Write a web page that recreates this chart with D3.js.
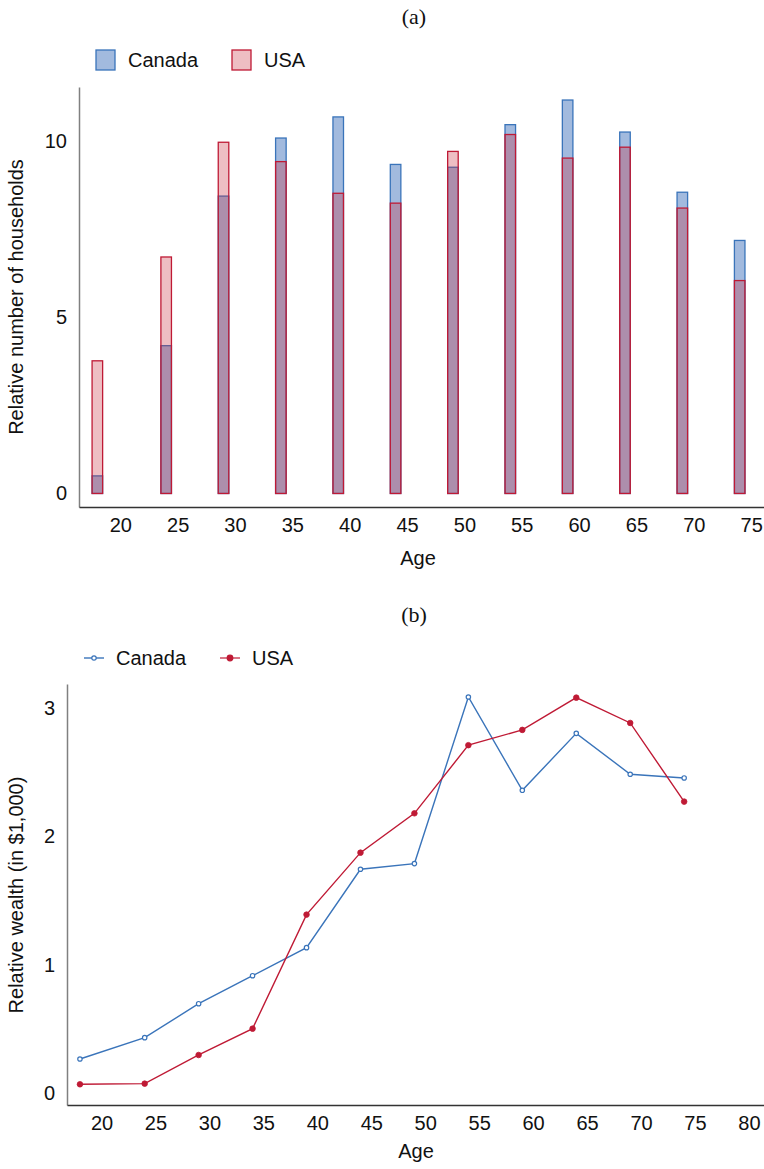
<!DOCTYPE html>
<html><head><meta charset="utf-8">
<script src="https://cdn.jsdelivr.net/npm/d3@7"></script>
<style>
html,body{margin:0;padding:0;background:#fff;}
text{font-family:"Liberation Sans",Arial,sans-serif;fill:#111;}
</style></head>
<body>
<svg id="chart" width="764" height="1169"></svg>
<script>
// ---- Data ----
const ages = [18, 24, 29, 34, 39, 44, 49, 54, 59, 64, 69, 74];
const householdsCanada = [0.5, 4.2, 8.45, 10.1, 10.7, 9.35, 9.27, 10.48, 11.18, 10.27, 8.56, 7.19];
const householdsUSA = [3.77, 6.72, 9.98, 9.43, 8.53, 8.25, 9.72, 10.2, 9.53, 9.84, 8.11, 6.05];
const wealthCanada = [0.267, 0.433, 0.697, 0.915, 1.133, 1.743, 1.787, 3.083, 2.357, 2.80, 2.482, 2.453];
const wealthUSA = [0.07, 0.075, 0.298, 0.503, 1.39, 1.872, 2.178, 2.708, 2.827, 3.078, 2.881, 2.269];
const xTicksA = [20, 25, 30, 35, 40, 45, 50, 55, 60, 65, 70, 75];
const xTicksB = [20, 25, 30, 35, 40, 45, 50, 55, 60, 65, 70, 75, 80];
const yTicksA = [0, 5, 10];
const yTicksB = [0, 1, 2, 3];
const seriesNames = ["Canada", "USA"];

const blue = "#3a74ba", red = "#bf1a35";
const svg = d3.select("#chart");

// ---- Panel titles ----
svg.append("text").attr("x", 414).attr("y", 24).attr("text-anchor", "middle")
  .style("font-family", "'Liberation Serif','Times New Roman',serif").style("font-size", "22px").text("(a)");
svg.append("text").attr("x", 414).attr("y", 622).attr("text-anchor", "middle")
  .style("font-family", "'Liberation Serif','Times New Roman',serif").style("font-size", "22px").text("(b)");

// ================= Panel (a) =================
const xA = d3.scaleLinear().domain([16.4, 76.12]).range([79, 764]);
const yA = d3.scaleLinear().domain([-0.384, 11.55]).range([507, 87]);
const halfW = 0.46;

function bars(data, fill, stroke) {
  svg.append("g").selectAll("rect").data(ages).join("rect")
    .attr("x", (d) => xA(d - halfW))
    .attr("width", (d) => xA(d + halfW) - xA(d - halfW))
    .attr("y", (d, i) => yA(data[i]))
    .attr("height", (d, i) => yA(0) - yA(data[i]))
    .attr("fill", fill).attr("stroke", stroke).attr("stroke-width", 1.3);
}
bars(householdsCanada, "rgba(60,110,185,0.48)", blue);
bars(householdsUSA, "rgba(200,40,55,0.30)", red);

// axes (a)
const fmt = d3.format("d");
const axA_y = svg.append("g").attr("transform", "translate(79,0)")
  .call(d3.axisLeft(yA).tickValues(yTicksA).tickFormat(fmt).tickSize(0).tickPadding(12));
axA_y.select(".domain").attr("stroke", "#808080").attr("stroke-width", 1.5);
axA_y.selectAll("text").style("font-size", "20px").style("font-family", "'Liberation Sans',Arial,sans-serif").attr("fill", "#111");
const axA_x = svg.append("g").attr("transform", "translate(0,507)")
  .call(d3.axisBottom(xA).tickValues(xTicksA).tickFormat(fmt).tickSize(0).tickPadding(11));
axA_x.select(".domain").attr("stroke", "#333").attr("stroke-width", 1.5);
axA_x.selectAll("text").style("font-size", "20px").style("font-family", "'Liberation Sans',Arial,sans-serif").attr("fill", "#111");

svg.append("text").attr("x", 418).attr("y", 565).attr("text-anchor", "middle").style("font-size", "20px").text("Age");
svg.append("text").attr("transform", "translate(23,297) rotate(-90)").attr("text-anchor", "middle")
  .style("font-size", "20px").text("Relative number of households");

// legend (a)
const legA = [{n: seriesNames[0], f: "rgba(60,110,185,0.48)", s: blue, x: 96}, {n: seriesNames[1], f: "rgba(200,40,55,0.30)", s: red, x: 232}];
legA.forEach((l) => {
  svg.append("rect").attr("x", l.x).attr("y", 50).attr("width", 19).attr("height", 20)
    .attr("fill", l.f).attr("stroke", l.s).attr("stroke-width", 1.3);
  svg.append("text").attr("x", l.x + 32).attr("y", 67).style("font-size", "20px").text(l.n);
});

// ================= Panel (b) =================
const xB = d3.scaleLinear().domain([16.8, 81.4]).range([67, 764]);
const yB = d3.scaleLinear().domain([-0.091, 3.184]).range([1105, 684]);

const axB_y = svg.append("g").attr("transform", "translate(67,0)")
  .call(d3.axisLeft(yB).tickValues(yTicksB).tickFormat(fmt).tickSize(0).tickPadding(12));
axB_y.select(".domain").attr("stroke", "#808080").attr("stroke-width", 1.5);
axB_y.selectAll("text").style("font-size", "20px").style("font-family", "'Liberation Sans',Arial,sans-serif").attr("fill", "#111");
const axB_x = svg.append("g").attr("transform", "translate(0,1105)")
  .call(d3.axisBottom(xB).tickValues(xTicksB).tickFormat(fmt).tickSize(0).tickPadding(11));
axB_x.select(".domain").attr("stroke", "#333").attr("stroke-width", 1.5);
axB_x.selectAll("text").style("font-size", "20px").style("font-family", "'Liberation Sans',Arial,sans-serif").attr("fill", "#111");

svg.append("text").attr("x", 416).attr("y", 1158).attr("text-anchor", "middle").style("font-size", "20px").text("Age");
svg.append("text").attr("transform", "translate(23,895) rotate(-90)").attr("text-anchor", "middle")
  .style("font-size", "20px").text("Relative wealth (in $1,000)");

const line = d3.line().x((d) => xB(d[0])).y((d) => yB(d[1]));
function series(vals, color, hollow) {
  const pts = ages.map((a, i) => [a, vals[i]]);
  svg.append("path").datum(pts).attr("d", line).attr("fill", "none").attr("stroke", color).attr("stroke-width", 1.4);
  svg.append("g").selectAll("circle").data(pts).join("circle")
    .attr("cx", (d) => xB(d[0])).attr("cy", (d) => yB(d[1]))
    .attr("r", hollow ? 2.2 : 2.8)
    .attr("fill", hollow ? "#fff" : color).attr("stroke", color).attr("stroke-width", hollow ? 1.2 : 0.8);
}
series(wealthCanada, blue, true);
series(wealthUSA, red, false);

// legend (b)
const legB = [{n: seriesNames[0], c: blue, h: true, x: 84}, {n: seriesNames[1], c: red, h: false, x: 220}];
legB.forEach((l) => {
  svg.append("line").attr("x1", l.x).attr("x2", l.x + 20).attr("y1", 658).attr("y2", 658)
    .attr("stroke", l.c).attr("stroke-width", l.h ? 1.4 : 2).attr("stroke-opacity", l.h ? 1 : 0.6);
  svg.append("circle").attr("cx", l.x + 10).attr("cy", 658).attr("r", l.h ? 2.2 : 2.8)
    .attr("fill", l.h ? "#fff" : l.c).attr("stroke", l.c).attr("stroke-width", 1.2);
  svg.append("text").attr("x", l.x + 32).attr("y", 665).style("font-size", "20px").text(l.n);
});
</script>
</body></html>
